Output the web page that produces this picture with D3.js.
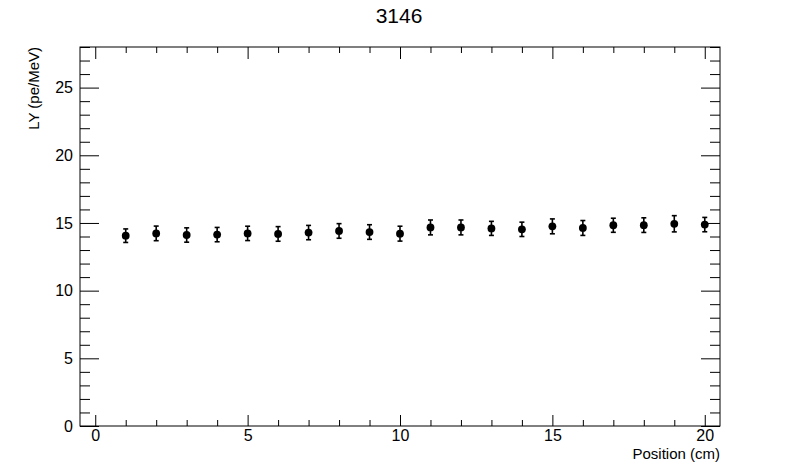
<!DOCTYPE html>
<html>
<head>
<meta charset="utf-8">
<script src="https://cdn.jsdelivr.net/npm/d3@7"></script>
<style>
  body { margin: 0; background: #fff; }
  text { font-family: "Liberation Sans", Arial, Helvetica, sans-serif; fill: #000; }
</style>
</head>
<body>
<div id="chart-area"></div>
<script>
const positions = [1, 2, 3, 4, 5, 6, 7, 8, 9, 10, 11, 12, 13, 14, 15, 16, 17, 18, 19, 20]
const lightYield = [14.06, 14.23, 14.11, 14.14, 14.23, 14.19, 14.29, 14.41, 14.33, 14.21,
	14.67, 14.67, 14.60, 14.53, 14.75, 14.63, 14.83, 14.84, 14.94, 14.88]
const lyError = [0.50, 0.54, 0.53, 0.53, 0.53, 0.54, 0.53, 0.54, 0.54, 0.55,
	0.55, 0.55, 0.52, 0.53, 0.55, 0.55, 0.52, 0.54, 0.60, 0.53]
const xMajorTicks = [0, 5, 10, 15, 20]
const yMajorTicks = [0, 5, 10, 15, 20, 25]

const MARGIN = { LEFT: 80, RIGHT: 80, TOP: 47, BOTTOM: 48 }
const W = 800, H = 474
const WIDTH = W - MARGIN.LEFT - MARGIN.RIGHT
const HEIGHT = H - MARGIN.TOP - MARGIN.BOTTOM

const svg = d3.select("#chart-area").append("svg")
	.attr("width", W)
	.attr("height", H)

const g = svg.append("g")
	.attr("transform", `translate(${MARGIN.LEFT}, ${MARGIN.TOP})`)

const x = d3.scaleLinear().domain([-0.5, 20.5]).range([0, WIDTH])
const y = d3.scaleLinear().domain([0, 28]).range([HEIGHT, 0])

const xMinor = d3.range(0, 21).filter(v => v % 5 !== 0)
const yMinor = d3.range(0, 29).filter(v => v % 5 !== 0)

// axes: ticks pointing into the frame, ROOT style
function styleAxis(sel) {
	sel.select(".domain").remove()
	sel.selectAll("line").attr("stroke", "#000").attr("stroke-width", 1)
	sel.selectAll("text").attr("font-size", "16px")
		.attr("font-family", '"Liberation Sans", Arial, sans-serif')
}

// bottom
g.append("g").attr("transform", `translate(0, ${HEIGHT})`)
	.call(d3.axisBottom(x).tickValues(xMajorTicks).tickSize(-11).tickPadding(4).tickFormat(d3.format("d")))
	.call(styleAxis)
g.append("g").attr("transform", `translate(0, ${HEIGHT})`)
	.call(d3.axisBottom(x).tickValues(xMinor).tickSize(-6).tickFormat(""))
	.call(styleAxis)
// top
g.append("g")
	.call(d3.axisTop(x).tickValues(xMajorTicks).tickSize(-12).tickFormat(""))
	.call(styleAxis)
g.append("g")
	.call(d3.axisTop(x).tickValues(xMinor).tickSize(-6).tickFormat(""))
	.call(styleAxis)
// left
g.append("g")
	.call(d3.axisLeft(y).tickValues(yMajorTicks).tickSize(-19).tickPadding(7).tickFormat(d3.format("d")))
	.call(styleAxis)
g.append("g")
	.call(d3.axisLeft(y).tickValues(yMinor).tickSize(-10).tickFormat(""))
	.call(styleAxis)
// right
g.append("g").attr("transform", `translate(${WIDTH}, 0)`)
	.call(d3.axisRight(y).tickValues(yMajorTicks).tickSize(-19).tickFormat(""))
	.call(styleAxis)
g.append("g").attr("transform", `translate(${WIDTH}, 0)`)
	.call(d3.axisRight(y).tickValues(yMinor).tickSize(-10).tickFormat(""))
	.call(styleAxis)

// frame
g.append("rect")
	.attr("width", WIDTH)
	.attr("height", HEIGHT)
	.attr("fill", "none")
	.attr("stroke", "#000")
	.attr("stroke-width", 1)

// data
const data = positions.map((p, i) => ({ x: p, y: lightYield[i], e: lyError[i] }))

const pts = g.selectAll(".pt").data(data).enter().append("g").attr("class", "pt")

pts.append("line")
	.attr("x1", d => x(d.x)).attr("x2", d => x(d.x))
	.attr("y1", d => y(d.y - d.e)).attr("y2", d => y(d.y + d.e))
	.attr("stroke", "#000").attr("stroke-width", 1.6)
pts.append("line")
	.attr("x1", d => x(d.x) - 2.5).attr("x2", d => x(d.x) + 2.5)
	.attr("y1", d => y(d.y + d.e)).attr("y2", d => y(d.y + d.e))
	.attr("stroke", "#000").attr("stroke-width", 1.6)
pts.append("line")
	.attr("x1", d => x(d.x) - 2.5).attr("x2", d => x(d.x) + 2.5)
	.attr("y1", d => y(d.y - d.e)).attr("y2", d => y(d.y - d.e))
	.attr("stroke", "#000").attr("stroke-width", 1.6)
pts.append("circle")
	.attr("cx", d => x(d.x))
	.attr("cy", d => y(d.y))
	.attr("r", 3.9)
	.attr("fill", "#000")

// title
svg.append("text")
	.attr("x", 399)
	.attr("y", 23)
	.attr("font-size", "21px")
	.attr("text-anchor", "middle")
	.text("3146")

// X label
svg.append("text")
	.attr("x", MARGIN.LEFT + WIDTH)
	.attr("y", 459)
	.attr("font-size", "15px")
	.attr("text-anchor", "end")
	.text("Position (cm)")

// Y label
svg.append("text")
	.attr("transform", `translate(39, ${MARGIN.TOP}) rotate(-90)`)
	.attr("font-size", "15px")
	.attr("text-anchor", "end")
	.text("LY (pe/MeV)")
</script>
</body>
</html>
